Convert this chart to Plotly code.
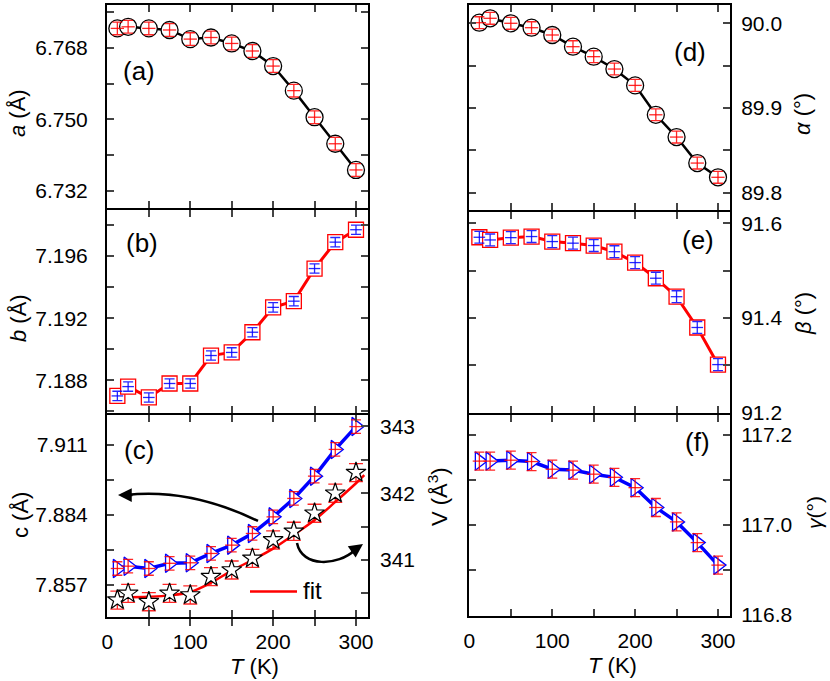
import plotly.graph_objects as go

# ---------------- data ----------------
T = [12, 25, 50, 75, 100, 125, 150, 175, 200, 225, 250, 275, 300]
a_vals = [6.7729, 6.7733, 6.7729, 6.7725, 6.7702, 6.7706, 6.7691, 6.7672, 6.7634, 6.7572, 6.7505, 6.7438, 6.7372]
b_vals = [7.1870, 7.1876, 7.1869, 7.1878, 7.1878, 7.1896, 7.1898, 7.1911, 7.1927, 7.1931, 7.1952, 7.1969, 7.1977]
c_vals = [7.8634, 7.8643, 7.8634, 7.8654, 7.8656, 7.8692, 7.8724, 7.8769, 7.8833, 7.8904, 7.8990, 7.9093, 7.9181]
V_vals = [340.40, 340.50, 340.375, 340.50, 340.476, 340.75, 340.85, 341.025, 341.30, 341.43, 341.70, 342.00, 342.31]
T_fit = [15, 50, 75, 100, 125, 150, 175, 200, 225, 250, 275, 300, 310]
V_fit = [340.44, 340.45, 340.47, 340.52, 340.66, 340.84, 341.00, 341.17, 341.38, 341.60, 341.87, 342.15, 342.27]
alpha_vals = [90.0007, 90.0059, 90.0, 89.9948, 89.9862, 89.9724, 89.9606, 89.946, 89.9267, 89.892, 89.8657, 89.835, 89.8182]
beta_vals = [91.5705, 91.5648, 91.5697, 91.572, 91.5614, 91.558, 91.553, 91.540, 91.517, 91.484, 91.445, 91.380, 91.3017]
gamma_vals = [117.142, 117.142, 117.144, 117.141, 117.124, 117.122, 117.113, 117.106, 117.083, 117.039, 117.007, 116.961, 116.911]

x_ticks = [0, 50, 100, 150, 200, 250, 300]
x_labels = ["0", "", "100", "", "200", "", "300"]
a_ticks = [6.732, 6.741, 6.750, 6.759, 6.768, 6.777]
a_labels = ["6.732", "", "6.750", "", "6.768", ""]
b_ticks = [7.186, 7.188, 7.190, 7.192, 7.194, 7.196, 7.198]
b_labels = ["", "7.188", "", "7.192", "", "7.196", ""]
c_ticks = [7.857, 7.8705, 7.884, 7.8975, 7.911]
c_labels = ["7.857", "", "7.884", "", "7.911"]
V_ticks = [340.5, 341, 341.5, 342, 342.5, 343]
V_labels = ["", "341", "", "342", "", "343"]
d_ticks = [89.8, 89.85, 89.9, 89.95, 90.0]
d_labels = ["89.8", "", "89.9", "", "90.0"]
e_ticks = [91.2, 91.3, 91.4, 91.5, 91.6]
e_labels = ["91.2", "", "91.4", "", "91.6"]
f_ticks = [116.8, 116.9, 117.0, 117.1, 117.2]
f_labels = ["116.8", "", "117.0", "", "117.2"]

# ---------------- geometry helpers ----------------
W, H = 830, 681
def px(x):
    return x / W
def py(y):
    return 1 - y / H

FONT = "Liberation Sans, Arial, sans-serif"
RED = "rgba(255,0,0,0.85)"
BLUE = "rgba(0,0,255,0.85)"

fig = go.Figure()

def add_panel(xa, ya, y, line_color, line_w, symbol, mk_line, err_color, ey, ex, size):
    fig.add_trace(go.Scatter(x=T, y=y, mode="lines", xaxis=xa, yaxis=ya,
                             line=dict(color=line_color, width=line_w), showlegend=False,
                             hoverinfo="skip"))
    fig.add_trace(go.Scatter(x=T, y=y, mode="markers", xaxis=xa, yaxis=ya,
                             marker=dict(symbol=symbol, size=size, color="white",
                                         line=dict(color=mk_line, width=1.3)),
                             showlegend=False))
    fig.add_trace(go.Scatter(x=T, y=y, mode="markers", xaxis=xa, yaxis=ya,
                             marker=dict(size=1, color="rgba(0,0,0,0)"),
                             error_y=dict(type="constant", value=ey, color=err_color, thickness=1.3, width=5),
                             error_x=dict(type="constant", value=ex, color=err_color, thickness=1.3, width=0),
                             showlegend=False, hoverinfo="skip"))

add_panel("x", "y", a_vals, "black", 2.5, "circle", "black", RED, 0.0016, 8, 17)
add_panel("x2", "y2", b_vals, "red", 3, "square", "red", BLUE, 0.0003, 7, 15)
add_panel("x3", "y3", c_vals, "blue", 3.5, "triangle-right", "blue", RED, 0.0026, 8, 16)
add_panel("x4", "y4", alpha_vals, "black", 2.5, "circle", "black", RED, 0.007, 8, 17)
add_panel("x5", "y5", beta_vals, "red", 3, "square", "red", BLUE, 0.0126, 7, 15)
add_panel("x6", "y6", gamma_vals, "blue", 3.5, "triangle-right", "blue", RED, 0.02, 8, 16)

# V on secondary axis of panel c: fit + stars
fig.add_trace(go.Scatter(x=T_fit, y=V_fit, mode="lines", xaxis="x3", yaxis="y7",
                         line=dict(color="red", width=2.5, shape="spline"), showlegend=False))
fig.add_trace(go.Scatter(x=T, y=V_vals, mode="markers", xaxis="x3", yaxis="y7",
                         marker=dict(size=1, color="rgba(0,0,0,0)"),
                         error_y=dict(type="constant", value=0.135, color=RED, thickness=1.3, width=7),
                         showlegend=False))
fig.add_trace(go.Scatter(x=T, y=V_vals, mode="markers", xaxis="x3", yaxis="y7",
                         marker=dict(symbol="star", size=15, color="white",
                                     line=dict(color="black", width=1.2)),
                         showlegend=False))

# ---------------- axes ----------------
XL = [px(107), px(368)]
XR = [px(469), px(730)]
XR_RANGE = [-0.5, 314.5]
TICKFONT = dict(family=FONT, size=21, color="black")

def xax(domain, anchor, labels):
    return dict(domain=domain, anchor=anchor, range=XR_RANGE, tickvals=x_ticks,
                ticktext=x_labels, showticklabels=labels, ticks="inside", ticklen=7, tickwidth=1.5,
                showline=True, linewidth=2, linecolor="black", mirror="allticks",
                showgrid=False, zeroline=False, tickfont=TICKFONT,
                ticklabelstandoff=5, automargin=False)

def yax(domain, anchor, rng, tv, tt, side="left", labels=True, mirror="allticks", standoff=13):
    return dict(domain=domain, anchor=anchor, range=rng, tickvals=tv, ticktext=tt, side=side,
                showticklabels=labels, ticks="inside", ticklen=7, tickwidth=1.5,
                showline=True, linewidth=2, linecolor="black", mirror=mirror,
                showgrid=False, zeroline=False, tickfont=TICKFONT,
                ticklabelstandoff=standoff, automargin=False)

dA = [py(208), py(5)]
dB = [py(413), py(210)]
dC = [py(617), py(415)]
dD = [py(210), py(5)]
dE = [py(413), py(212)]
dF = [py(616), py(415)]

fig.update_layout(
    xaxis=xax(XL, "y", False),
    xaxis2=xax(XL, "y2", False),
    xaxis3=xax(XL, "y3", True),
    xaxis4=xax(XR, "y4", False),
    xaxis5=xax(XR, "y5", False),
    xaxis6=xax(XR, "y6", True),
    yaxis=yax(dA, "x", [6.7276, 6.7788], a_ticks, a_labels),
    yaxis2=yax(dB, "x2", [7.1859, 7.19897], b_ticks, b_labels),
    yaxis3=yax(dC, "x3", [7.8447, 7.92257], c_ticks, c_labels, mirror=True),
    yaxis4=yax(dD, "x4", [89.7796, 90.0216], d_ticks, d_labels, side="right", standoff=5),
    yaxis5=yax(dE, "x5", [91.1995, 91.6238], e_ticks, e_labels, side="right", standoff=5),
    yaxis6=yax(dF, "x6", [116.798, 117.2444], f_ticks, f_labels, side="right", standoff=5),
    yaxis7=dict(overlaying="y3", anchor="x3", side="right", range=[340.146, 343.172],
                tickvals=V_ticks, ticktext=V_labels, ticks="inside", ticklen=7, tickwidth=1.5,
                showline=False, showgrid=False, zeroline=False,
                tickfont=TICKFONT, ticklabelstandoff=11, automargin=False),
    width=W, height=H, margin=dict(l=0, r=0, t=0, b=0, pad=0, autoexpand=False),
    plot_bgcolor="white", paper_bgcolor="white", showlegend=False,
)

# ---------------- annotations ----------------
def txt(x, y, s, size=22, angle=0):
    fig.add_annotation(x=px(x), y=py(y), xref="paper", yref="paper", text=s, showarrow=False,
                       textangle=angle, font=dict(family=FONT, size=size, color="black"),
                       xanchor="center", yanchor="middle")

txt(18, 113, "<i>a</i> (Å)", angle=-90)
txt(18, 318, "<i>b</i> (Å)", angle=-90)
txt(20, 515, "c (Å)", angle=-90)
txt(803, 114, "<i>α</i> (°)", angle=-90)
txt(803, 314, "<i>β</i> (°)", angle=-90)
txt(814, 513, "<i>γ</i>(°)", size=21, angle=-90)
txt(438, 497, "V (Å<sup>3</sup>)", angle=-90)
txt(254, 666, "<i>T</i> (K)")
txt(612, 665, "<i>T</i> (K)")

txt(139, 71, "(a)", size=26)
txt(142, 243, "(b)", size=26)
txt(139, 450, "(c)", size=26)
txt(690, 52, "(d)", size=26)
txt(698, 240, "(e)", size=26)
txt(697, 442, "(f)", size=26)

# legend "fit"
fig.add_shape(type="line", xref="paper", yref="paper", x0=px(250), x1=px(297), y0=py(591.5), y1=py(591.5),
              line=dict(color="red", width=2.5))
fig.add_annotation(x=px(301), y=py(590), xref="paper", yref="paper", text="fit", showarrow=False,
                   xanchor="left", yanchor="middle", font=dict(family=FONT, size=24, color="black"))

# curved arrows
def pth(points, kind):
    p = [f"{px(x):.5f},{py(y):.5f}" for x, y in points]
    if kind == "Q":
        return f"M {p[0]} Q {p[1]} {p[2]}"
    return f"M {p[0]} C {p[1]} {p[2]} {p[3]}"

fig.add_shape(type="path", xref="paper", yref="paper",
              path=pth([(258, 521), (190, 488), (126, 495)], "Q"),
              line=dict(color="black", width=2.5))
fig.add_annotation(x=px(118), y=py(495), xref="paper", yref="paper", ax=16, ay=0,
                   axref="pixel", ayref="pixel", text="", showarrow=True,
                   arrowhead=2, arrowsize=1.1, arrowwidth=2.5, arrowcolor="black")

fig.add_shape(type="path", xref="paper", yref="paper",
              path=pth([(297, 543), (302, 568), (338, 566), (355, 550)], "C"),
              line=dict(color="black", width=2.5))
fig.add_annotation(x=px(363), y=py(544), xref="paper", yref="paper", ax=-13, ay=9,
                   axref="pixel", ayref="pixel", text="", showarrow=True,
                   arrowhead=2, arrowsize=1.1, arrowwidth=2.5, arrowcolor="black")

fig.write_html("out.html", config={"displayModeBar": False},
               post_script="document.body.style.margin='0';")
